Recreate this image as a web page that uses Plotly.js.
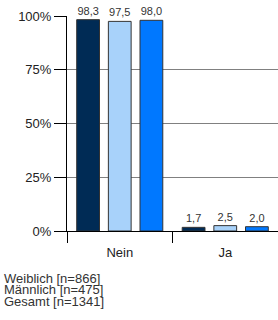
<!DOCTYPE html>
<html><head><meta charset="utf-8">
<script src="https://cdn.plot.ly/plotly-3.0.1.min.js"></script>
<style>html,body{margin:0;padding:0;background:#fff;}#chart{width:278px;height:320px;}</style>
</head><body><div id="chart"></div>
<script>
var categories = ["Nein", "Ja"];
var seriesNames = ["Weiblich [n=866]", "Männlich [n=475]", "Gesamt [n=1341]"];
var weiblich = [98.3, 1.7];
var maennlich = [97.5, 2.5];
var gesamt = [98.0, 2.0];
var colors = ["#002B55", "#A8D2FA", "#0078FF"];
var yTicks = [0, 25, 50, 75, 100];

var values = [weiblich, maennlich, gesamt];
var traces = values.map(function(v, i){
  return {
    type: "bar", x: categories, y: v, name: seriesNames[i],
    marker: {color: colors[i], line: {color: "#333333", width: 1}},
    text: v.map(function(d){ return d.toFixed(1).replace(".", ","); }),
    textposition: "outside", cliponaxis: false,
    textfont: {family: "Liberation Sans, Arial, sans-serif", size: 11, color: "#333333"},
    hoverinfo: "none"
  };
});

var annotations = seriesNames.map(function(n, i){
  return {text: n, xref: "paper", yref: "paper", x: -64/211, y: -(278 - 231 + i*11.8)/215,
    xanchor: "left", yanchor: "middle", showarrow: false, borderpad: 0,
    font: {family: "Liberation Sans, Arial, sans-serif", size: 13, color: "#333333"}};
});

var layout = {
  width: 278, height: 320,
  margin: {l: 67, r: 0, t: 16, b: 89},
  paper_bgcolor: "#fff", plot_bgcolor: "#fff",
  showlegend: false,
  barmode: "group", bargap: 0.1, bargroupgap: 0.28,
  font: {family: "Liberation Sans, Arial, sans-serif", color: "#222"},
  xaxis: {
    showline: true, linecolor: "#000", linewidth: 1,
    ticks: "outside", tickson: "boundaries", ticklen: 11, tickcolor: "#000",
    ticklabelstandoff: 9,
    tickfont: {size: 13, color: "#222"}, showgrid: false
  },
  yaxis: {
    range: [0, 100], tickvals: yTicks, ticktext: yTicks.map(function(t){return t + "%";}),
    showline: true, linecolor: "#000", linewidth: 1,
    ticks: "outside", ticklen: 12, tickcolor: "#000",
    showgrid: true, gridcolor: "#808080", gridwidth: 1, zeroline: false,
    tickfont: {size: 13, color: "#222"}
  },
  annotations: annotations
};
Plotly.newPlot("chart", traces, layout, {staticPlot: true, displayModeBar: false});
</script></body></html>
